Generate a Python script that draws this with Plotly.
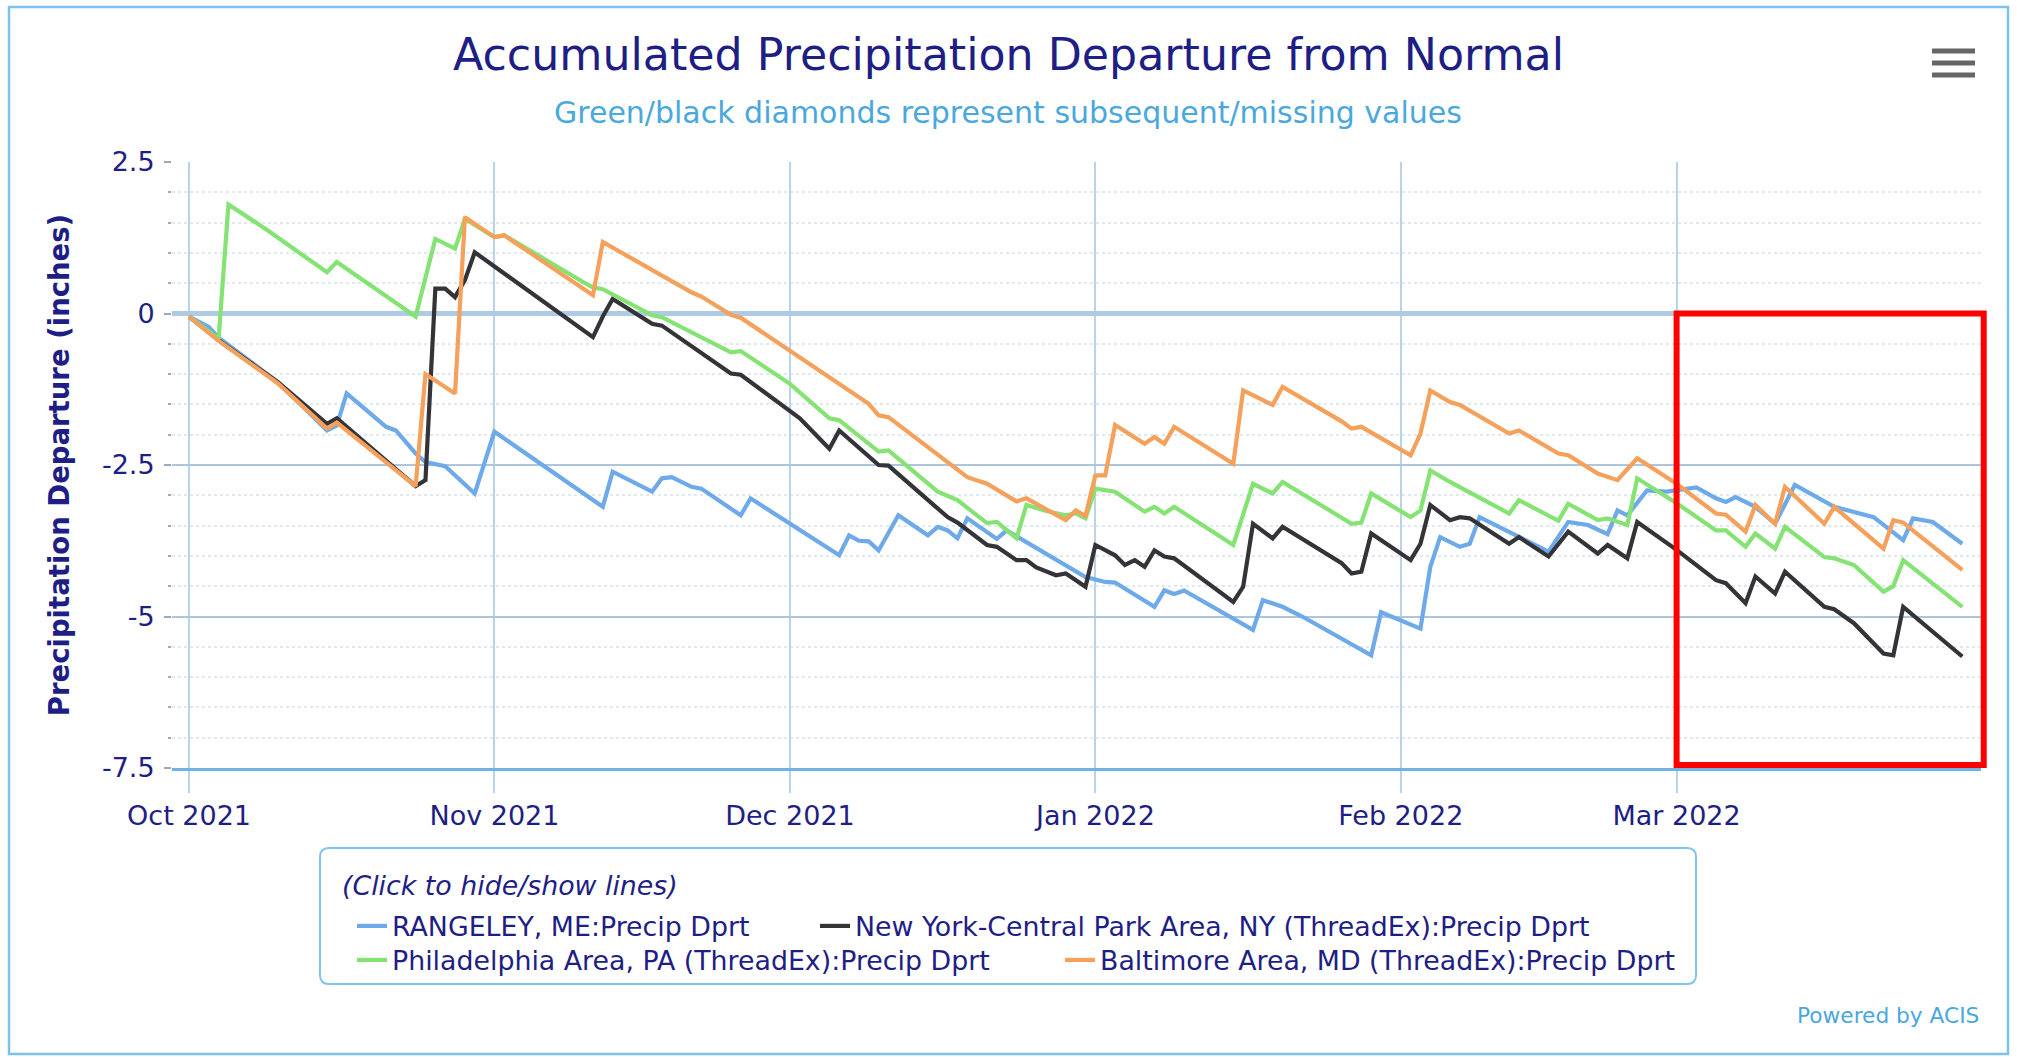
import plotly.graph_objects as go
import pandas as pd

# ------------------------------------------------------------------ data
series_names = [
    "RANGELEY, ME:Precip Dprt",
    "New York-Central Park Area, NY (ThreadEx):Precip Dprt",
    "Philadelphia Area, PA (ThreadEx):Precip Dprt",
    "Baltimore Area, MD (ThreadEx):Precip Dprt",
]

rangeley_dates = [
    "2021-10-01", "2021-10-03", "2021-10-04", "2021-10-10", "2021-10-15", "2021-10-16", "2021-10-17",
    "2021-10-21", "2021-10-22", "2021-10-24", "2021-10-25", "2021-10-27", "2021-10-30", "2021-11-01",
    "2021-11-12", "2021-11-13", "2021-11-17", "2021-11-18", "2021-11-19", "2021-11-21", "2021-11-22",
    "2021-11-26", "2021-11-27", "2021-12-06", "2021-12-07", "2021-12-08", "2021-12-09", "2021-12-10",
    "2021-12-12", "2021-12-15", "2021-12-16", "2021-12-17", "2021-12-18", "2021-12-19", "2021-12-22",
    "2021-12-23", "2021-12-31", "2022-01-02", "2022-01-03", "2022-01-07", "2022-01-08", "2022-01-09",
    "2022-01-10", "2022-01-17", "2022-01-18", "2022-01-20", "2022-01-22", "2022-01-25", "2022-01-29",
    "2022-01-30", "2022-02-03", "2022-02-04", "2022-02-05", "2022-02-07", "2022-02-08", "2022-02-09",
    "2022-02-12", "2022-02-16", "2022-02-18", "2022-02-20", "2022-02-22", "2022-02-23", "2022-02-24",
    "2022-02-26", "2022-02-28", "2022-03-03", "2022-03-05", "2022-03-06", "2022-03-07", "2022-03-09",
    "2022-03-11", "2022-03-13", "2022-03-17", "2022-03-20", "2022-03-21", "2022-03-24", "2022-03-25",
    "2022-03-27", "2022-03-30",
]
rangeley_vals = [
    -0.05, -0.22, -0.40, -1.13, -1.93, -1.85, -1.32,
    -1.87, -1.93, -2.31, -2.45, -2.52, -2.97, -1.95,
    -3.19, -2.61, -2.94, -2.72, -2.70, -2.86, -2.89,
    -3.33, -3.05, -3.99, -3.66, -3.75, -3.76, -3.91,
    -3.33, -3.66, -3.52, -3.58, -3.71, -3.38, -3.72,
    -3.58, -4.35, -4.43, -4.44, -4.84, -4.57, -4.63,
    -4.57, -5.22, -4.73, -4.84, -5.00, -5.27, -5.64,
    -4.93, -5.20, -4.18, -3.69, -3.85, -3.80, -3.36,
    -3.60, -3.93, -3.44, -3.49, -3.64, -3.25, -3.33,
    -2.92, -2.94, -2.87, -3.05, -3.11, -3.03, -3.19,
    -3.47, -2.83, -3.19, -3.33, -3.36, -3.74, -3.38,
    -3.44, -3.80,
]

nyc_dates = [
    "2021-10-01", "2021-10-04", "2021-10-10", "2021-10-15", "2021-10-16", "2021-10-24", "2021-10-25",
    "2021-10-26", "2021-10-27", "2021-10-28", "2021-10-29", "2021-10-30", "2021-11-11", "2021-11-12",
    "2021-11-13", "2021-11-17", "2021-11-18", "2021-11-25", "2021-11-26", "2021-12-02", "2021-12-05",
    "2021-12-06", "2021-12-10", "2021-12-11", "2021-12-17", "2021-12-18", "2021-12-21", "2021-12-22",
    "2021-12-24", "2021-12-25", "2021-12-26", "2021-12-28", "2021-12-29", "2021-12-31", "2022-01-01",
    "2022-01-03", "2022-01-04", "2022-01-05", "2022-01-06", "2022-01-07", "2022-01-08", "2022-01-09",
    "2022-01-15", "2022-01-16", "2022-01-17", "2022-01-19", "2022-01-20", "2022-01-26", "2022-01-27",
    "2022-01-28", "2022-01-29", "2022-02-02", "2022-02-03", "2022-02-04", "2022-02-06", "2022-02-07",
    "2022-02-08", "2022-02-12", "2022-02-13", "2022-02-16", "2022-02-18", "2022-02-21", "2022-02-22",
    "2022-02-24", "2022-02-25", "2022-03-01", "2022-03-05", "2022-03-06", "2022-03-08", "2022-03-09",
    "2022-03-11", "2022-03-12", "2022-03-16", "2022-03-17", "2022-03-19", "2022-03-22", "2022-03-23",
    "2022-03-24", "2022-03-30",
]
nyc_vals = [
    -0.05, -0.44, -1.13, -1.82, -1.73, -2.85, -2.75,
    0.41, 0.41, 0.27, 0.55, 1.01, -0.39, -0.05,
    0.24, -0.17, -0.20, -0.99, -1.01, -1.73, -2.23,
    -1.93, -2.50, -2.51, -3.36, -3.45, -3.82, -3.85,
    -4.07, -4.07, -4.19, -4.32, -4.29, -4.51, -3.82,
    -3.99, -4.15, -4.07, -4.18, -3.91, -4.01, -4.04,
    -4.76, -4.51, -3.47, -3.71, -3.52, -4.12, -4.29,
    -4.26, -3.63, -4.07, -3.80, -3.16, -3.41, -3.36,
    -3.38, -3.80, -3.69, -4.01, -3.60, -3.96, -3.82,
    -4.04, -3.44, -3.90, -4.40, -4.45, -4.78, -4.34,
    -4.62, -4.26, -4.84, -4.88, -5.11, -5.61, -5.64,
    -4.84, -5.66,
]

phila_dates = [
    "2021-10-01", "2021-10-04", "2021-10-05", "2021-10-09", "2021-10-15", "2021-10-16", "2021-10-24",
    "2021-10-26", "2021-10-28", "2021-10-29", "2021-11-01", "2021-11-02", "2021-11-10", "2021-11-11",
    "2021-11-12", "2021-11-15", "2021-11-17", "2021-11-18", "2021-11-21", "2021-11-25", "2021-11-26",
    "2021-12-01", "2021-12-05", "2021-12-06", "2021-12-10", "2021-12-11", "2021-12-16", "2021-12-18",
    "2021-12-21", "2021-12-22", "2021-12-24", "2021-12-25", "2021-12-27", "2021-12-29", "2021-12-30",
    "2021-12-31", "2022-01-01", "2022-01-03", "2022-01-06", "2022-01-07", "2022-01-08", "2022-01-09",
    "2022-01-15", "2022-01-17", "2022-01-19", "2022-01-20", "2022-01-26", "2022-01-27", "2022-01-28",
    "2022-01-29", "2022-02-02", "2022-02-03", "2022-02-04", "2022-02-06", "2022-02-12", "2022-02-13",
    "2022-02-17", "2022-02-18", "2022-02-21", "2022-02-22", "2022-02-24", "2022-02-25", "2022-03-01",
    "2022-03-05", "2022-03-06", "2022-03-08", "2022-03-09", "2022-03-11", "2022-03-12", "2022-03-16",
    "2022-03-17", "2022-03-19", "2022-03-22", "2022-03-23", "2022-03-24", "2022-03-30",
]
phila_vals = [
    -0.05, -0.42, 1.80, 1.37, 0.68, 0.85, -0.05,
    1.23, 1.07, 1.56, 1.26, 1.29, 0.52, 0.43,
    0.40, 0.15, -0.03, -0.06, -0.31, -0.64, -0.62,
    -1.16, -1.73, -1.76, -2.28, -2.26, -2.94, -3.08,
    -3.46, -3.44, -3.71, -3.16, -3.26, -3.33, -3.30,
    -3.38, -2.89, -2.94, -3.27, -3.19, -3.30, -3.19,
    -3.82, -2.81, -2.97, -2.78, -3.37, -3.47, -3.45,
    -2.97, -3.36, -3.25, -2.59, -2.78, -3.30, -3.08,
    -3.42, -3.14, -3.41, -3.38, -3.49, -2.72, -3.13,
    -3.58, -3.58, -3.85, -3.63, -3.88, -3.52, -4.02,
    -4.04, -4.15, -4.59, -4.50, -4.07, -4.84,
]

balt_dates = [
    "2021-10-01", "2021-10-04", "2021-10-10", "2021-10-15", "2021-10-16", "2021-10-24", "2021-10-25",
    "2021-10-28", "2021-10-29", "2021-11-01", "2021-11-02", "2021-11-11", "2021-11-12", "2021-11-21",
    "2021-11-22", "2021-11-25", "2021-11-26", "2021-12-09", "2021-12-10", "2021-12-11", "2021-12-19",
    "2021-12-21", "2021-12-24", "2021-12-25", "2021-12-29", "2021-12-30", "2021-12-31", "2022-01-01",
    "2022-01-02", "2022-01-03", "2022-01-06", "2022-01-07", "2022-01-08", "2022-01-09", "2022-01-15",
    "2022-01-16", "2022-01-19", "2022-01-20", "2022-01-26", "2022-01-27", "2022-01-28", "2022-02-02",
    "2022-02-03", "2022-02-04", "2022-02-06", "2022-02-07", "2022-02-12", "2022-02-13", "2022-02-17",
    "2022-02-18", "2022-02-21", "2022-02-23", "2022-02-25", "2022-03-01", "2022-03-05", "2022-03-06",
    "2022-03-08", "2022-03-09", "2022-03-11", "2022-03-12", "2022-03-16", "2022-03-17", "2022-03-22",
    "2022-03-23", "2022-03-24", "2022-03-30",
]
balt_vals = [
    -0.05, -0.45, -1.15, -1.90, -1.80, -2.85, -1.00,
    -1.32, 1.59, 1.26, 1.29, 0.30, 1.18, 0.35,
    0.28, -0.02, -0.07, -1.49, -1.68, -1.71, -2.70,
    -2.81, -3.10, -3.05, -3.41, -3.25, -3.34, -2.67,
    -2.67, -1.84, -2.15, -2.04, -2.15, -1.87, -2.48,
    -1.27, -1.51, -1.21, -1.78, -1.90, -1.87, -2.34,
    -1.98, -1.27, -1.46, -1.51, -1.98, -1.93, -2.31,
    -2.34, -2.64, -2.75, -2.39, -2.81, -3.30, -3.32,
    -3.60, -3.16, -3.47, -2.86, -3.47, -3.19, -3.88,
    -3.41, -3.45, -4.23,
]

x_tick_vals = ["2021-10-01", "2021-11-01", "2021-12-01", "2022-01-01", "2022-02-01", "2022-03-01"]
x_tick_text = ["Oct 2021", "Nov 2021", "Dec 2021", "Jan 2022", "Feb 2022", "Mar 2022"]
y_tick_vals = [-7.5, -5, -2.5, 0, 2.5]
y_tick_text = ["-7.5", "-5", "-2.5", "0", "2.5"]

# ------------------------------------------------------------------ styling
W, H = 2017, 1057
ML, MR, MT, MB = 172, 36, 162, 289
PW, PH = W - ML - MR, H - MT - MB
FONT = "DejaVu Sans"
NAVY = "#1e1e84"
LIGHTBLUE = "#4aa8dd"
colors = ["#6eaaea", "#343438", "#84e373", "#f5a05b"]

x_start = pd.Timestamp("2021-10-01") - pd.Timedelta(days=1.73)
x_end = pd.Timestamp("2021-10-01") + pd.Timedelta(days=181.9)
y_min, y_max = -7.5, 2.5


def px_x(px):
    return (px - ML) / PW


def px_y(py):
    return (H - MB - py) / PH


def dom_x(date_str):
    t = pd.Timestamp(date_str)
    return (t - x_start) / (x_end - x_start)


def dom_y(v):
    return (v - y_min) / (y_max - y_min)


fig = go.Figure()
all_dates = [rangeley_dates, nyc_dates, phila_dates, balt_dates]
all_vals = [rangeley_vals, nyc_vals, phila_vals, balt_vals]
legend_ids = ["legend", "legend2", "legend3", "legend4"]
for name, xs, ys, c, lg in zip(series_names, all_dates, all_vals, colors, legend_ids):
    fig.add_trace(go.Scatter(
        x=xs, y=ys, mode="lines", name=name,
        line=dict(color=c, width=4.2),
        legend=lg, showlegend=True,
    ))

legend_common = dict(
    orientation="h", xref="container", yref="container",
    xanchor="left", yanchor="middle",
    font=dict(family=FONT, size=26.8, color=NAVY),
    bgcolor="rgba(0,0,0,0)", borderwidth=0,
)
legend_pos = [(352, 926), (815, 926), (352, 960), (1060, 960)]

layout_legends = {}
for lg, (lx, ly) in zip(legend_ids, legend_pos):
    layout_legends[lg] = dict(legend_common, x=lx / W, y=1 - ly / H)


def rrect_path(px0, py0, px1, py1, r):
    x0, x1 = px_x(px0), px_x(px1)
    y0, y1 = px_y(py0), px_y(py1)
    rx, ry = r / PW, r / PH
    return (f"M{x0+rx},{y0} L{x1-rx},{y0} Q{x1},{y0} {x1},{y0-ry} "
            f"L{x1},{y1+ry} Q{x1},{y1} {x1-rx},{y1} L{x0+rx},{y1} "
            f"Q{x0},{y1} {x0},{y1+ry} L{x0},{y0-ry} Q{x0},{y0} {x0+rx},{y0} Z")


shapes = [
    # outer chart frame
    dict(type="rect", xref="paper", yref="paper",
         x0=px_x(9), x1=px_x(2008), y0=px_y(1054), y1=px_y(7),
         line=dict(color="#7cc3ea", width=2.5), fillcolor="rgba(0,0,0,0)"),
    # legend box
    dict(type="path", xref="paper", yref="paper",
         path=rrect_path(320, 848, 1696, 984, 9),
         line=dict(color="#7dc4ee", width=2), fillcolor="rgba(0,0,0,0)"),
    # red highlight box: March 2022, 0 to bottom
    dict(type="rect", xref="x domain", yref="y domain",
         x0=dom_x("2022-03-01"), x1=1.0015, y0=dom_y(-7.45), y1=dom_y(0),
         line=dict(color="#ff0000", width=6), fillcolor="rgba(0,0,0,0)"),
]
# hamburger menu icon
for yy in (51, 63, 75):
    shapes.append(dict(type="rect", xref="paper", yref="paper",
                       x0=px_x(1932), x1=px_x(1975), y0=px_y(yy + 2.5), y1=px_y(yy - 2.5),
                       line=dict(width=0), fillcolor="#666666"))

annotations = [
    dict(text="Green/black diamonds represent subsequent/missing values",
         xref="paper", yref="paper", x=px_x(1008), y=px_y(112),
         xanchor="center", yanchor="middle", showarrow=False,
         font=dict(family=FONT, size=30, color=LIGHTBLUE)),
    dict(text="<i>(Click to hide/show lines)</i>",
         xref="paper", yref="paper", x=px_x(340), y=px_y(885),
         xanchor="left", yanchor="middle", showarrow=False,
         font=dict(family=FONT, size=26.8, color=NAVY)),
    dict(text="Powered by ACIS",
         xref="paper", yref="paper", x=px_x(1981), y=px_y(1015),
         xanchor="right", yanchor="middle", showarrow=False,
         font=dict(family=FONT, size=21.7, color=LIGHTBLUE)),
]

fig.update_layout(
    width=W, height=H,
    margin=dict(l=ML, r=MR, t=MT, b=MB, autoexpand=False),
    paper_bgcolor="white", plot_bgcolor="white",
    font=dict(family=FONT, color=NAVY),
    title=dict(text="Accumulated Precipitation Departure from Normal",
               x=0.5, xanchor="center", y=1 - 54 / H, yanchor="middle",
               font=dict(family=FONT, size=44.3, color=NAVY)),
    shapes=shapes, annotations=annotations,
    hovermode="x",
    **layout_legends,
)

fig.update_xaxes(
    type="date", range=[x_start, x_end],
    tickmode="array", tickvals=x_tick_vals, ticktext=x_tick_text,
    showgrid=True, gridcolor="#b8d4ec", gridwidth=1.5,
    showline=True, linecolor="#6cb4e8", linewidth=2.5,
    ticks="outside", ticklen=22, tickcolor="#b8d4ec", tickwidth=1.5,
    tickfont=dict(family=FONT, size=27, color=NAVY),
    zeroline=False,
)
fig.update_yaxes(
    range=[y_min, y_max],
    tickmode="array", tickvals=y_tick_vals, ticktext=y_tick_text,
    showgrid=True, gridcolor="#adc6df", gridwidth=2,
    zeroline=True, zerolinecolor="#aecbe6", zerolinewidth=5,
    showline=False,
    ticks="outside", ticklen=7, tickcolor="#a0a8b8", tickwidth=1.5,
    ticklabelstandoff=4,
    tickfont=dict(family=FONT, size=27, color=NAVY),
    minor=dict(dtick=0.5, showgrid=True, gridcolor="#e2e8ef", griddash="dot", gridwidth=1.5,
               ticks="outside", ticklen=3, tickcolor="#a0a8b8", tickwidth=1.5),
    title=dict(text="Precipitation Departure (inches)", standoff=24,
               font=dict(family=FONT, size=27.5, color=NAVY, weight="bold")),
)

# remove the browser's default page margin so the 2017x1057 figure fills the window exactly
fig.write_html(
    "out.html",
    config={"displayModeBar": False},
    post_script="document.body.style.margin='0';document.body.style.overflow='hidden';"
                "document.documentElement.style.overflow='hidden';",
)
